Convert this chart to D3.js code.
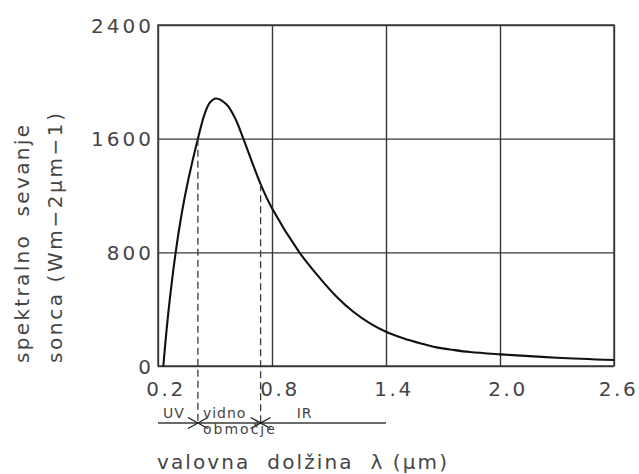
<!DOCTYPE html>
<html>
<head>
<meta charset="utf-8">
<script src="https://cdn.jsdelivr.net/npm/d3@7"></script>
<style>
  html, body { margin: 0; padding: 0; background: #fff; }
  svg { display: block; }
  text { font-family: "DejaVu Sans", sans-serif; fill: #454545; white-space: pre; }
</style>
</head>
<body>
<svg id="chart" width="639" height="474"></svg>
<script>
// Solar spectral irradiance: wavelength (µm) and intensity (W m-2 µm-1)
const wavelength = [0.228, 0.254, 0.293, 0.325, 0.359, 0.41, 0.447, 0.474, 0.504, 0.561, 0.61, 0.649, 0.74, 0.8, 0.944, 1.053, 1.14, 1.228, 1.316, 1.4, 1.491, 1.579, 1.667, 1.754, 1.842, 2.0, 2.3, 2.6];
const irradiance = [0, 371, 800, 1075, 1309, 1600, 1780, 1855, 1883, 1840, 1732, 1600, 1280, 1110, 800, 617, 488, 382, 300, 241, 195, 160, 131, 113, 98, 82, 58, 42];

const xTicks = [0.2, 0.8, 1.4, 2.0, 2.6];
const yTicks = [0, 800, 1600, 2400];

// Band limits (UV | visible | IR) and the extent of the band line
const bandLimits = [0.41, 0.74];
const bandLineEnd = 1.4;
const bandNames = ["UV", "vidno", "IR"];

const svg = d3.select("#chart");
const mLeft = 158, mRight = 614, mTop = 25, mBottom = 366;

const x = d3.scaleLinear().domain([0.2, 2.6]).range([mLeft, mRight]);
const y = d3.scaleLinear().domain([0, 2400]).range([mBottom, mTop]);

const gridColor = "#383838";

// Grid + tick labels
const yAxis = d3.axisLeft(y).tickValues(yTicks).tickFormat(d3.format("d"))
  .tickSizeInner(-(mRight - mLeft)).tickSizeOuter(0).tickPadding(4);
const gy = svg.append("g").attr("transform", `translate(${mLeft},0)`).call(yAxis);
gy.select(".domain").remove();
gy.selectAll(".tick line").attr("stroke", gridColor).attr("stroke-width", 1.4);
gy.selectAll(".tick text").attr("font-size", 20).attr("letter-spacing", 3)
  .attr("fill", "#454545").attr("font-family", "DejaVu Sans").attr("dy", "0.35em");

const xAxis = d3.axisBottom(x).tickValues(xTicks).tickFormat(d3.format(".1f"))
  .tickSizeInner(-(mBottom - mTop)).tickSizeOuter(0).tickPadding(16);
const gx = svg.append("g").attr("transform", `translate(0,${mBottom})`).call(xAxis);
gx.select(".domain").remove();
gx.selectAll(".tick line").attr("stroke", gridColor).attr("stroke-width", 1.4);
gx.selectAll(".tick text").attr("font-size", 20).attr("letter-spacing", 2.5)
  .attr("fill", "#454545").attr("font-family", "DejaVu Sans")
  .attr("dx", (d, i) => i === xTicks.length - 1 ? 4 : 7.5);

// Frame
svg.append("rect").attr("x", mLeft).attr("y", mTop)
  .attr("width", mRight - mLeft).attr("height", mBottom - mTop)
  .attr("fill", "none").attr("stroke", gridColor).attr("stroke-width", 1.4);

// Spectrum curve
const pts = wavelength.map((w, i) => [w, irradiance[i]]);
const line = d3.line().x(d => x(d[0])).y(d => y(d[1])).curve(d3.curveCatmullRom.alpha(0.5));
svg.append("path").attr("d", line(pts)).attr("fill", "none")
  .attr("stroke", "#111").attr("stroke-width", 2.1);

// Band section below the plot
const bandY = 423;
svg.append("line").attr("x1", x(0.2)).attr("x2", x(bandLineEnd))
  .attr("y1", bandY).attr("y2", bandY).attr("stroke", "#3a3a3a").attr("stroke-width", 1.4);

bandLimits.forEach(b => {
  const i = wavelength.indexOf(b);
  svg.append("line").attr("x1", x(b)).attr("x2", x(b))
    .attr("y1", y(irradiance[i])).attr("y2", bandY)
    .attr("stroke", "#3a3a3a").attr("stroke-width", 1.3).attr("stroke-dasharray", "7,4");
  const g = svg.append("g").attr("transform", `translate(${x(b)},${bandY})`);
  g.append("line").attr("x1", -10).attr("y1", -5.5).attr("x2", 10).attr("y2", 5.5)
    .attr("stroke", "#222").attr("stroke-width", 1.4);
  g.append("line").attr("x1", -10).attr("y1", 5.5).attr("x2", 10).attr("y2", -5.5)
    .attr("stroke", "#222").attr("stroke-width", 1.4);
});

const bandFont = 14;
svg.append("text").text(bandNames[0]).attr("x", x(bandLimits[0]) - 13).attr("y", 418)
  .attr("text-anchor", "end").attr("font-size", bandFont).attr("letter-spacing", 1);
svg.append("text").text(bandNames[1]).attr("x", x(bandLimits[0]) + 5).attr("y", 418)
  .attr("font-size", bandFont).attr("letter-spacing", 1);
svg.append("text").text("območje").attr("x", x(bandLimits[0]) + 5).attr("y", 434)
  .attr("font-size", bandFont).attr("textLength", 72).attr("lengthAdjust", "spacing");
svg.append("text").text(bandNames[2]).attr("x", x(bandLimits[1]) + 44).attr("y", 418)
  .attr("text-anchor", "middle").attr("font-size", bandFont).attr("letter-spacing", 1);

// Axis titles
svg.append("text").text("valovna  dolžina  λ (µm)").attr("x", 157).attr("y", 469)
  .attr("font-size", 20).attr("textLength", 290).attr("lengthAdjust", "spacing");

const yTitle = svg.append("g").attr("transform", "translate(0,363) rotate(-90)");
yTitle.append("text").text("spektralno  sevanje").attr("x", 0).attr("y", 29)
  .attr("font-size", 20).attr("textLength", 238).attr("lengthAdjust", "spacing");
yTitle.append("text").text("sonca (Wm−2µm−1)").attr("x", 0).attr("y", 62)
  .attr("font-size", 20).attr("textLength", 250).attr("lengthAdjust", "spacing");
</script>
</body>
</html>
